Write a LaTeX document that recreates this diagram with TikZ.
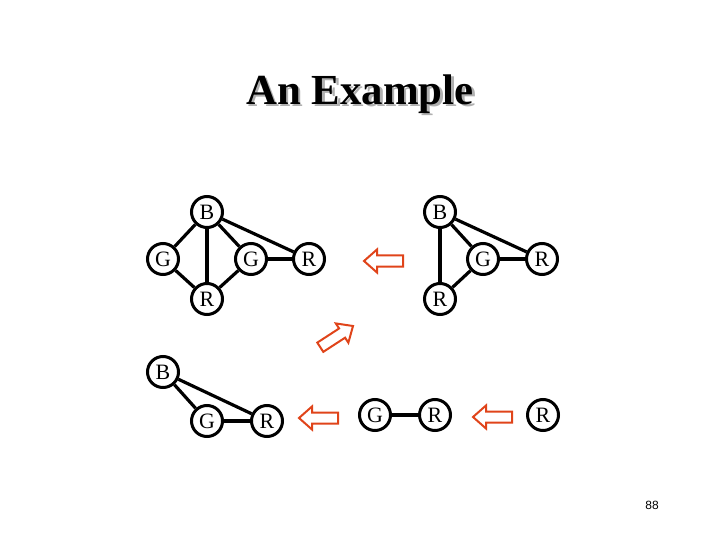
\documentclass[tikz,border=0pt]{standalone}
\usepackage{fontspec}
\setmainfont{Liberation Serif}
\newfontfamily\numfont{Liberation Sans}
\definecolor{arrowred}{HTML}{E0441A}
\definecolor{shadowgray}{HTML}{B0B0B0}
\begin{document}
\begin{tikzpicture}[x=1bp,y=-1bp,
  vtx/.style={circle,draw=black,line width=3bp,fill=white,minimum size=31bp,inner sep=0pt,
    font=\fontsize{22}{22}\selectfont},
  edge/.style={line width=3.2bp},
  pics/bigarrow/.style={code={
    \draw[arrowred,line width=2bp,line join=miter,fill=white]
      (0,0) -- (13,-11.5) -- (13,-5.5) -- (39,-5.5) -- (39,5.5) -- (13,5.5) -- (13,11.5) -- cycle;}}
]
\useasboundingbox (0,0) rectangle (720,540);
% title with shadow
\node[font=\fontsize{43}{43}\selectfont\bfseries,text=shadowgray] (tshadow) at (362.5,96.5) {An Example};
\node[font=\fontsize{43}{43}\selectfont\bfseries] (title) at (360,94) {An Example};
% graph 1
\node[vtx] (b1) at (207,212) {B};
\node[vtx] (gl1) at (163,259) {G};
\node[vtx] (gm1) at (251,259) {G};
\node[vtx] (rr1) at (309,259) {R};
\node[vtx] (rb1) at (207,299) {R};
\draw[edge] (b1) -- (gl1);
\draw[edge] (b1) -- (rb1);
\draw[edge] (b1) -- (gm1);
\draw[edge] (b1) -- (rr1);
\draw[edge] (gl1) -- (rb1);
\draw[edge] (gm1) -- (rb1);
\draw[edge] (gm1) -- (rr1);
% graph 2
\node[vtx] (b2) at (440,212) {B};
\node[vtx] (g2) at (483,259) {G};
\node[vtx] (rr2) at (542,259) {R};
\node[vtx] (rb2) at (440,299) {R};
\draw[edge] (b2) -- (rb2);
\draw[edge] (b2) -- (g2);
\draw[edge] (b2) -- (rr2);
\draw[edge] (g2) -- (rr2);
\draw[edge] (g2) -- (rb2);
% graph 3
\node[vtx] (b3) at (163,372) {B};
\node[vtx] (g3) at (207,421) {G};
\node[vtx] (r3) at (267,421) {R};
\draw[edge] (b3) -- (g3);
\draw[edge] (b3) -- (r3);
\draw[edge] (g3) -- (r3);
% graph 4
\node[vtx] (g4) at (375,415) {G};
\node[vtx] (r4) at (435,415) {R};
\draw[edge] (g4) -- (r4);
% graph 5
\node[vtx] (r5) at (543,415) {R};
% arrows
\pic at (364,261) {bigarrow};
\pic at (299,418) {bigarrow};
\pic at (473,417) {bigarrow};
\pic[rotate=213] at (353,326) {bigarrow};
% page number
\node[font=\numfont\fontsize{12}{12}\selectfont] (pnum) at (652,505) {88};
\end{tikzpicture}
\end{document}
